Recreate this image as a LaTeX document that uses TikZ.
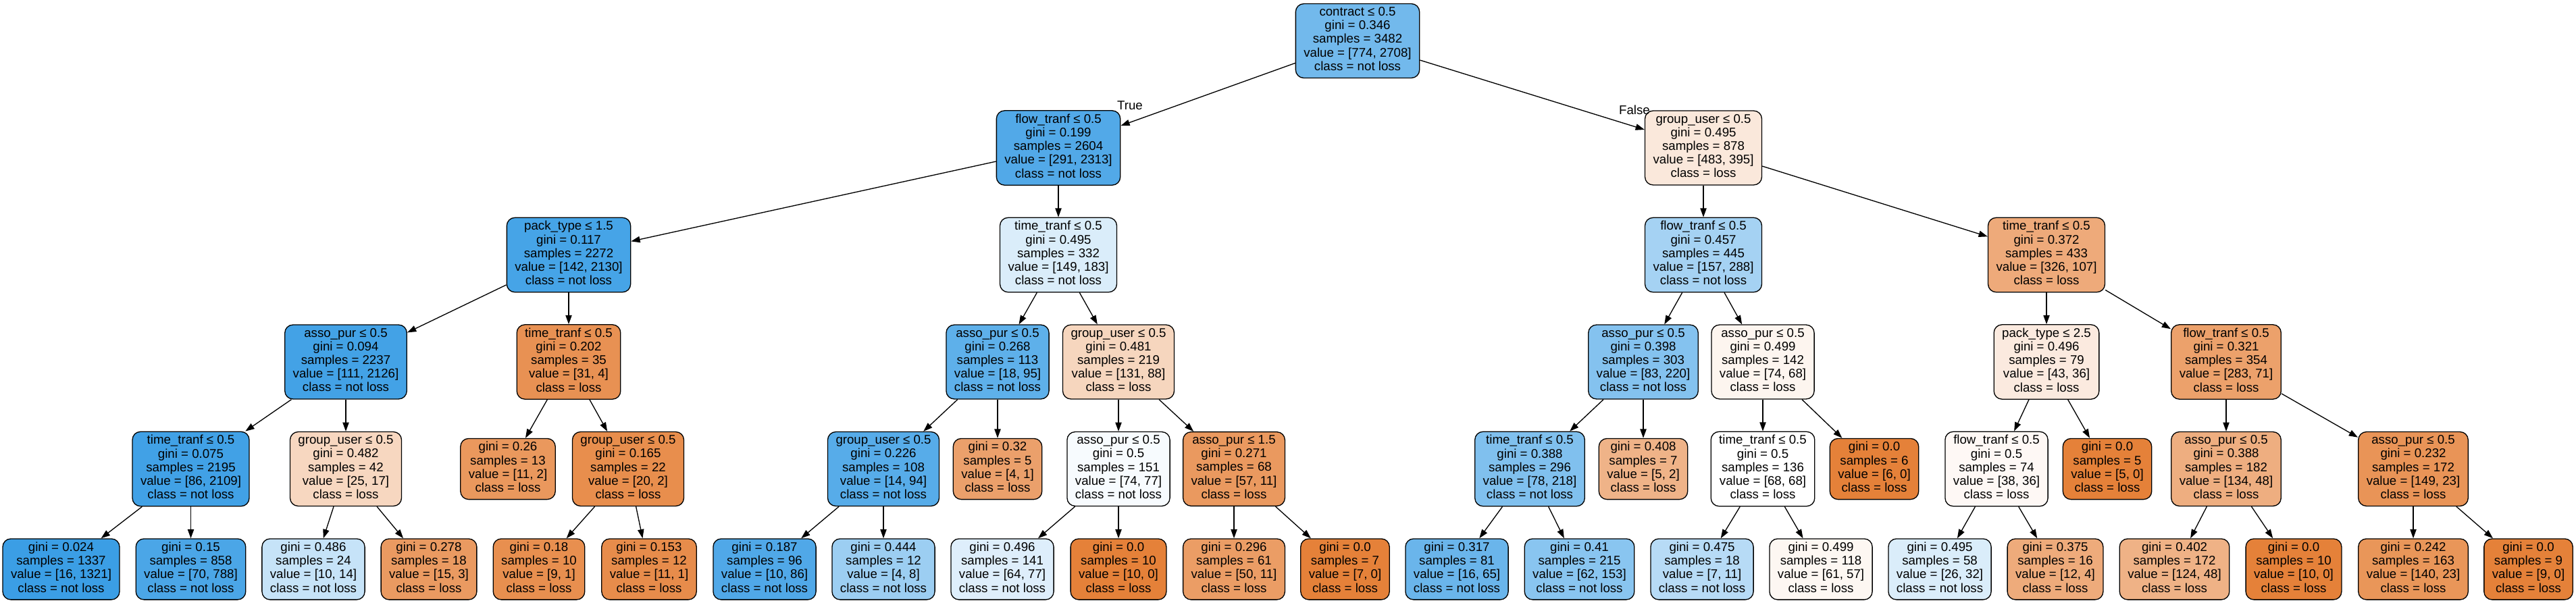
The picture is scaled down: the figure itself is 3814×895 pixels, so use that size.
\documentclass[tikz,border=0pt]{standalone}
\usepackage{fontspec}
\setmainfont{Liberation Sans}
\usetikzlibrary{arrows.meta}
\definecolor{losscol}{HTML}{E58139}
\definecolor{keepcol}{HTML}{399DE5}

\begin{document}
\begin{tikzpicture}[x=1pt, y=-1pt,
    tnode/.style={draw=black, line width=1.33pt, rounded corners=12pt, align=center,
      inner xsep=12pt, inner ysep=5pt, font=\fontsize{18.67}{20.2}\selectfont,
      execute at begin node=\strut, execute at end node=\strut},
    link/.style={line width=1.33pt, -{Triangle[length=13.3pt, width=9.3pt]}},
    elabel/.style={font=\fontsize{18.67}{20.2}\selectfont, inner sep=0pt}]
    \useasboundingbox (0,0) rectangle (3814,895);
    % Draw the root and the first split
    \node[tnode, fill=keepcol!71.4!white] (n0) at (2010,60.5) {contract ≤ 0.5\\gini = 0.346\\samples = 3482\\value = [774, 2708]\\class = not loss};
    \node[tnode, fill=keepcol!87.4!white] (n1) at (1567,219) {flow\_tranf ≤ 0.5\\gini = 0.199\\samples = 2604\\value = [291, 2313]\\class = not loss};
    \node[tnode, fill=losscol!18.2!white] (n28) at (2522,219) {group\_user ≤ 0.5\\gini = 0.495\\samples = 878\\value = [483, 395]\\class = loss};
    % Second level
    \node[tnode, fill=keepcol!93.3!white] (n2) at (842,377.5) {pack\_type ≤ 1.5\\gini = 0.117\\samples = 2272\\value = [142, 2130]\\class = not loss};
    \node[tnode, fill=keepcol!18.6!white] (n15) at (1567,377.5) {time\_tranf ≤ 0.5\\gini = 0.495\\samples = 332\\value = [149, 183]\\class = not loss};
    \node[tnode, fill=keepcol!45.5!white] (n29) at (2522,377.5) {flow\_tranf ≤ 0.5\\gini = 0.457\\samples = 445\\value = [157, 288]\\class = not loss};
    \node[tnode, fill=losscol!67.2!white] (n40) at (3030,377.5) {time\_tranf ≤ 0.5\\gini = 0.372\\samples = 433\\value = [326, 107]\\class = loss};
    % Third level
    \node[tnode, fill=keepcol!94.8!white] (n3) at (512,536) {asso\_pur ≤ 0.5\\gini = 0.094\\samples = 2237\\value = [111, 2126]\\class = not loss};
    \node[tnode, fill=losscol!87.1!white] (n10) at (842,536) {time\_tranf ≤ 0.5\\gini = 0.202\\samples = 35\\value = [31, 4]\\class = loss};
    \node[tnode, fill=keepcol!81.1!white] (n16) at (1477,536) {asso\_pur ≤ 0.5\\gini = 0.268\\samples = 113\\value = [18, 95]\\class = not loss};
    \node[tnode, fill=losscol!32.8!white] (n21) at (1656,536) {group\_user ≤ 0.5\\gini = 0.481\\samples = 219\\value = [131, 88]\\class = loss};
    \node[tnode, fill=keepcol!62.3!white] (n30) at (2433,536) {asso\_pur ≤ 0.5\\gini = 0.398\\samples = 303\\value = [83, 220]\\class = not loss};
    \node[tnode, fill=losscol!8.1!white] (n35) at (2610,536) {asso\_pur ≤ 0.5\\gini = 0.499\\samples = 142\\value = [74, 68]\\class = loss};
    \node[tnode, fill=losscol!16.3!white] (n41) at (3030,536) {pack\_type ≤ 2.5\\gini = 0.496\\samples = 79\\value = [43, 36]\\class = loss};
    \node[tnode, fill=losscol!74.9!white] (n46) at (3296,536) {flow\_tranf ≤ 0.5\\gini = 0.321\\samples = 354\\value = [283, 71]\\class = loss};
    % Fourth level
    \node[tnode, fill=keepcol!95.9!white] (n4) at (282.5,694.5) {time\_tranf ≤ 0.5\\gini = 0.075\\samples = 2195\\value = [86, 2109]\\class = not loss};
    \node[tnode, fill=losscol!32!white] (n7) at (512,694.5) {group\_user ≤ 0.5\\gini = 0.482\\samples = 42\\value = [25, 17]\\class = loss};
    \node[tnode, fill=losscol!81.8!white] (n11) at (752,694.5) {gini = 0.26\\samples = 13\\value = [11, 2]\\class = loss};
    \node[tnode, fill=losscol!90!white] (n12) at (930,694.5) {group\_user ≤ 0.5\\gini = 0.165\\samples = 22\\value = [20, 2]\\class = loss};
    \node[tnode, fill=keepcol!85.1!white] (n17) at (1308,694.5) {group\_user ≤ 0.5\\gini = 0.226\\samples = 108\\value = [14, 94]\\class = not loss};
    \node[tnode, fill=losscol!75!white] (n20) at (1477,694.5) {gini = 0.32\\samples = 5\\value = [4, 1]\\class = loss};
    \node[tnode, fill=keepcol!3.9!white] (n22) at (1656,694.5) {asso\_pur ≤ 0.5\\gini = 0.5\\samples = 151\\value = [74, 77]\\class = not loss};
    \node[tnode, fill=losscol!80.7!white] (n25) at (1827,694.5) {asso\_pur ≤ 1.5\\gini = 0.271\\samples = 68\\value = [57, 11]\\class = loss};
    \node[tnode, fill=keepcol!64.2!white] (n31) at (2265,694.5) {time\_tranf ≤ 0.5\\gini = 0.388\\samples = 296\\value = [78, 218]\\class = not loss};
    \node[tnode, fill=losscol!60!white] (n34) at (2433,694.5) {gini = 0.408\\samples = 7\\value = [5, 2]\\class = loss};
    \node[tnode, fill=white] (n36) at (2610,694.5) {time\_tranf ≤ 0.5\\gini = 0.5\\samples = 136\\value = [68, 68]\\class = loss};
    \node[tnode, fill=losscol] (n39) at (2775,694.5) {gini = 0.0\\samples = 6\\value = [6, 0]\\class = loss};
    \node[tnode, fill=losscol!5.3!white] (n42) at (2956,694.5) {flow\_tranf ≤ 0.5\\gini = 0.5\\samples = 74\\value = [38, 36]\\class = loss};
    \node[tnode, fill=losscol] (n45) at (3120,694.5) {gini = 0.0\\samples = 5\\value = [5, 0]\\class = loss};
    \node[tnode, fill=losscol!64.2!white] (n47) at (3296,694.5) {asso\_pur ≤ 0.5\\gini = 0.388\\samples = 182\\value = [134, 48]\\class = loss};
    \node[tnode, fill=losscol!84.6!white] (n50) at (3573,694.5) {asso\_pur ≤ 0.5\\gini = 0.232\\samples = 172\\value = [149, 23]\\class = loss};
    % Bottom leaves
    \node[tnode, fill=keepcol!98.8!white] (n5) at (90.5,843) {gini = 0.024\\samples = 1337\\value = [16, 1321]\\class = not loss};
    \node[tnode, fill=keepcol!91.1!white] (n6) at (282.5,843) {gini = 0.15\\samples = 858\\value = [70, 788]\\class = not loss};
    \node[tnode, fill=keepcol!28.6!white] (n8) at (464,843) {gini = 0.486\\samples = 24\\value = [10, 14]\\class = not loss};
    \node[tnode, fill=losscol!80!white] (n9) at (635,843) {gini = 0.278\\samples = 18\\value = [15, 3]\\class = loss};
    \node[tnode, fill=losscol!88.9!white] (n13) at (798,843) {gini = 0.18\\samples = 10\\value = [9, 1]\\class = loss};
    \node[tnode, fill=losscol!90.9!white] (n14) at (961,843) {gini = 0.153\\samples = 12\\value = [11, 1]\\class = loss};
    \node[tnode, fill=keepcol!88.4!white] (n18) at (1132,843) {gini = 0.187\\samples = 96\\value = [10, 86]\\class = not loss};
    \node[tnode, fill=keepcol!50!white] (n19) at (1308,843) {gini = 0.444\\samples = 12\\value = [4, 8]\\class = not loss};
    \node[tnode, fill=keepcol!16.9!white] (n23) at (1484,843) {gini = 0.496\\samples = 141\\value = [64, 77]\\class = not loss};
    \node[tnode, fill=losscol] (n24) at (1656,843) {gini = 0.0\\samples = 10\\value = [10, 0]\\class = loss};
    \node[tnode, fill=losscol!78!white] (n26) at (1827,843) {gini = 0.296\\samples = 61\\value = [50, 11]\\class = loss};
    \node[tnode, fill=losscol] (n27) at (1991.5,843) {gini = 0.0\\samples = 7\\value = [7, 0]\\class = loss};
    \node[tnode, fill=keepcol!75.4!white] (n32) at (2157,843) {gini = 0.317\\samples = 81\\value = [16, 65]\\class = not loss};
    \node[tnode, fill=keepcol!59.5!white] (n33) at (2338.5,843) {gini = 0.41\\samples = 215\\value = [62, 153]\\class = not loss};
    \node[tnode, fill=keepcol!36.4!white] (n37) at (2520,843) {gini = 0.475\\samples = 18\\value = [7, 11]\\class = not loss};
    \node[tnode, fill=losscol!6.6!white] (n38) at (2696,843) {gini = 0.499\\samples = 118\\value = [61, 57]\\class = loss};
    \node[tnode, fill=keepcol!18.8!white] (n43) at (2872,843) {gini = 0.495\\samples = 58\\value = [26, 32]\\class = not loss};
    \node[tnode, fill=losscol!66.7!white] (n44) at (3043,843) {gini = 0.375\\samples = 16\\value = [12, 4]\\class = loss};
    \node[tnode, fill=losscol!61.3!white] (n48) at (3219.5,843) {gini = 0.402\\samples = 172\\value = [124, 48]\\class = loss};
    \node[tnode, fill=losscol] (n49) at (3396,843) {gini = 0.0\\samples = 10\\value = [10, 0]\\class = loss};
    \node[tnode, fill=losscol!83.6!white] (n51) at (3573,843) {gini = 0.242\\samples = 163\\value = [140, 23]\\class = loss};
    \node[tnode, fill=losscol] (n52) at (3743.5,843) {gini = 0.0\\samples = 9\\value = [9, 0]\\class = loss};
    % Draw the branches
    \draw[link] (n0) -- (n1);
    \draw[link] (n0) -- (n28);
    \draw[link] (n1) -- (n2);
    \draw[link] (n1) -- (n15);
    \draw[link] (n2) -- (n3);
    \draw[link] (n2) -- (n10);
    \draw[link] (n3) -- (n4);
    \draw[link] (n3) -- (n7);
    \draw[link] (n4) -- (n5);
    \draw[link] (n4) -- (n6);
    \draw[link] (n7) -- (n8);
    \draw[link] (n7) -- (n9);
    \draw[link] (n10) -- (n11);
    \draw[link] (n10) -- (n12);
    \draw[link] (n12) -- (n13);
    \draw[link] (n12) -- (n14);
    \draw[link] (n15) -- (n16);
    \draw[link] (n15) -- (n21);
    \draw[link] (n16) -- (n17);
    \draw[link] (n16) -- (n20);
    \draw[link] (n17) -- (n18);
    \draw[link] (n17) -- (n19);
    \draw[link] (n21) -- (n22);
    \draw[link] (n21) -- (n25);
    \draw[link] (n22) -- (n23);
    \draw[link] (n22) -- (n24);
    \draw[link] (n25) -- (n26);
    \draw[link] (n25) -- (n27);
    \draw[link] (n28) -- (n29);
    \draw[link] (n28) -- (n40);
    \draw[link] (n29) -- (n30);
    \draw[link] (n29) -- (n35);
    \draw[link] (n30) -- (n31);
    \draw[link] (n30) -- (n34);
    \draw[link] (n31) -- (n32);
    \draw[link] (n31) -- (n33);
    \draw[link] (n35) -- (n36);
    \draw[link] (n35) -- (n39);
    \draw[link] (n36) -- (n37);
    \draw[link] (n36) -- (n38);
    \draw[link] (n40) -- (n41);
    \draw[link] (n40) -- (n46);
    \draw[link] (n41) -- (n42);
    \draw[link] (n41) -- (n45);
    \draw[link] (n42) -- (n43);
    \draw[link] (n42) -- (n44);
    \draw[link] (n46) -- (n47);
    \draw[link] (n46) -- (n50);
    \draw[link] (n47) -- (n48);
    \draw[link] (n47) -- (n49);
    \draw[link] (n50) -- (n51);
    \draw[link] (n50) -- (n52);
    % Label the first split
    \node[elabel] (ltrue) at (1673,156) {True};
    \node[elabel] (lfalse) at (2420,163) {False};
\end{tikzpicture}
\end{document}
